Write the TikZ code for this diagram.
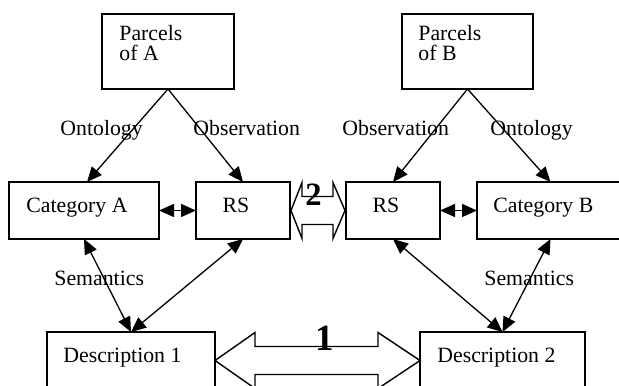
\documentclass[tikz,border=0pt]{standalone}
\usepackage{fontspec}
\setmainfont{Liberation Serif}
\usetikzlibrary{arrows.meta,calc}
\begin{document}
\begin{tikzpicture}[x=0.5pt,y=-0.5pt,
  box/.style={draw,line width=0.75pt,rectangle,inner sep=0pt,outer sep=0pt},
  txt/.style={inner sep=0pt,anchor=base west,font=\fontsize{10.9pt}{10pt}\selectfont},
  ctxt/.style={txt,anchor=base},
  link/.style={line width=0.65pt,-{Triangle[length=7.5pt,width=6.5pt]}},
  both/.style={line width=0.65pt,{Triangle[length=7.5pt,width=6.5pt]}-{Triangle[length=7.5pt,width=6.5pt]}},
  block/.style={draw,line width=0.7pt,fill=white,line join=miter},
  bignum/.style={inner sep=0pt,anchor=base,font=\bfseries}]

\useasboundingbox (0,0) rectangle (619,385);
\clip (0,0) rectangle (619,385);

% boxes
\node[box,minimum width=66pt,minimum height=37.5pt] (parA) at (168,51.5) {};
\node[box,minimum width=65.5pt,minimum height=37.5pt] (parB) at (467.5,51.5) {};
\node[box,minimum width=75pt,minimum height=28.5pt] (catA) at (84,210.5) {};
\node[box,minimum width=47pt,minimum height=28.5pt] (rsA) at (243,210.5) {};
\node[box,minimum width=47pt,minimum height=28.5pt] (rsB) at (393,210.5) {};
\node[box,minimum width=73.5pt,minimum height=28.5pt] (catB) at (550.5,210.5) {};
\node[box,minimum width=84pt,minimum height=28.5pt] (d1) at (131,360.5) {};
\node[box,minimum width=82.5pt,minimum height=28.5pt] (d2) at (502.5,360.5) {};

% box texts
\node[txt] (parA-t1) at (119,40.7) {Parcels};
\node[txt] (parA-t2) at (119,60.7) {of A};
\node[txt] (parB-t1) at (418,40.7) {Parcels};
\node[txt] (parB-t2) at (418,60.7) {of B};
\node[txt] (catA-t) at (26,212) {Category A};
\node[ctxt] (rsA-t) at (236,212) {RS};
\node[ctxt] (rsB-t) at (386,212) {RS};
\node[txt] (catB-t) at (493,212) {Category B};
\node[txt] (d1-t) at (63,362) {Description 1};
\node[txt] (d2-t) at (437,362) {Description 2};

% connectors
\draw[link] (parA.south) -- ([xshift=1.5pt]catA.north);
\draw[link] (parA.south) -- (rsA.north);
\draw[link] (parB.south) -- (rsB.north);
\draw[link] (parB.south) -- (catB.north);
\draw[both] (catA.east) -- (rsA.west);
\draw[both] (rsB.east) -- (catB.west);
\draw[both] (catA.south) -- (d1.north);
\draw[both] (rsA.south) -- (d1.north);
\draw[both] (rsB.south) -- (d2.north);
\draw[both] (catB.south) -- (d2.north);

% edge labels
\node[txt] (lbl-ontA) at (60,135) {Ontology};
\node[txt] (lbl-obsA) at (193,135) {Observation};
\node[txt] (lbl-obsB) at (342,135) {Observation};
\node[txt] (lbl-ontB) at (490,135) {Ontology};
\node[txt] (lbl-semA) at (54,285) {Semantics};
\node[txt] (lbl-semB) at (484,285) {Semantics};

% block arrow 1 between the descriptions
\coordinate (L1) at (d1.east);
\coordinate (R1) at (d2.west);
\draw[block] (L1) -- ($(L1)+(40,-28)$) -- ($(L1)+(40,-14)$) -- ($(R1)+(-42,-14)$)
  -- ($(R1)+(-42,-28)$) -- (R1) -- ($(R1)+(-42,28)$) -- ($(R1)+(-42,14)$)
  -- ($(L1)+(40,14)$) -- ($(L1)+(40,28)$) -- cycle;
\node[bignum,font=\fontsize{18.5pt}{18pt}\selectfont\bfseries] (n1) at (325,350) {1};

% block arrow 2 between the RS boxes
\coordinate (L2) at ([xshift=0.5pt]rsA.east);
\coordinate (R2) at ([xshift=-0.5pt]rsB.west);
\draw[block] (L2) -- ($(L2)+(11,-28)$) -- ($(L2)+(11,-14)$) -- ($(R2)+(-12,-14)$)
  -- ($(R2)+(-12,-28)$) -- (R2) -- ($(R2)+(-12,28)$) -- ($(R2)+(-12,14)$)
  -- ($(L2)+(11,14)$) -- ($(L2)+(11,28)$) -- cycle;
\node[bignum,font=\fontsize{16.3pt}{16pt}\selectfont\bfseries] (n2) at (313.5,205) {2};
\end{tikzpicture}
\end{document}
